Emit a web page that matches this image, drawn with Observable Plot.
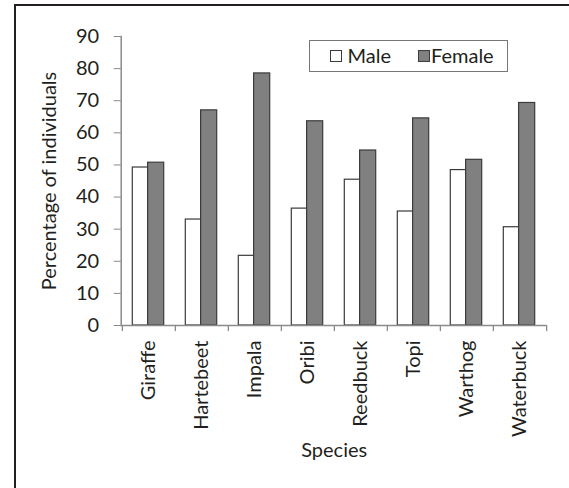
<!DOCTYPE html>
<html><head><meta charset="utf-8">
<script src="https://cdn.jsdelivr.net/npm/d3@7"></script>
<script src="https://cdn.jsdelivr.net/npm/@observablehq/plot@0.6"></script>
<style>
html,body{margin:0;padding:0;background:#fff;}
#wrap{position:relative;width:569px;height:488px;overflow:hidden;font-family:Lato,sans-serif;color:#231f20;background:#fff;}
#border{position:absolute;left:14px;top:4px;width:700px;height:700px;border-left:2px solid #231f20;border-top:2px solid #231f20;}
#chart{position:absolute;left:0;top:0;}
#legend{position:absolute;left:309px;top:40px;width:199px;height:32px;box-sizing:border-box;border:1.5px solid #777;background:#fff;}
.sw{position:absolute;width:12px;height:12px;box-sizing:border-box;border:1.3px solid #3b3b3b;top:8.5px;}
.lt{position:absolute;top:0;line-height:29px;font-size:20px;}
</style>
</head><body>
<div id="wrap"><div id="border"></div><div id="chart"></div><div id="legend"></div></div>
<script>
const species = ["Giraffe","Hartebeet","Impala","Oribi","Reedbuck","Topi","Warthog","Waterbuck"];
const male   = [49.2, 33.0, 21.7, 36.4, 45.4, 35.5, 48.4, 30.6];
const female = [50.7, 67.0, 78.5, 63.6, 54.5, 64.5, 51.6, 69.3];
const series = ["Male", "Female"];
const seriesColors = ["#ffffff", "#808080"];
const yTicks = [0,10,20,30,40,50,60,70,80,90];

const W = 569, H = 488, mL = 120.7, mR = 22.3, mT = 36, mB = 163;
const step = (W - mL - mR) / species.length;
const maleData = species.map((s, i) => ({species: s, sex: "Male", value: male[i]}));
const femaleData = species.map((s, i) => ({species: s, sex: "Female", value: female[i]}));
const axisColor = "#8a8a8a";
const barStroke = "#3b3b3b";

const chart = Plot.plot({
  width: W, height: H,
  marginLeft: mL, marginRight: mR, marginTop: mT, marginBottom: mB,
  style: {fontFamily: "Lato, sans-serif", fontSize: "20px", color: "#231f20", background: "transparent", overflow: "visible"},
  x: {type: "band", domain: species, padding: 0},
  y: {domain: [0, 90]},
  marks: [
    Plot.barY(maleData, {x: "species", y: "value", fill: seriesColors[0], stroke: barStroke, strokeWidth: 1.2, insetLeft: 10.3, insetRight: 27}),
    Plot.barY(femaleData, {x: "species", y: "value", fill: seriesColors[1], stroke: barStroke, strokeWidth: 1.2, insetLeft: 25.6, insetRight: 11.3}),
    Plot.ruleY([0], {stroke: axisColor, strokeWidth: 1.5}),
    Plot.frame({anchor: "left", stroke: axisColor, strokeWidth: 1.5}),
    Plot.ruleX(species, {x: d => d, y1: 0, y2: -1.9, dx: -step / 2, stroke: axisColor, strokeWidth: 1.3}),
    Plot.ruleX(species.slice(-1), {x: d => d, y1: 0, y2: -1.9, dx: step / 2, stroke: axisColor, strokeWidth: 1.3}),
    Plot.axisY({ticks: yTicks, tickSize: 7, tickPadding: 15, label: null, stroke: axisColor, fill: "#231f20", fontSize: 20}),
    Plot.axisX({tickSize: 0, tickRotate: -90, tickPadding: 15, label: null, fill: "#231f20", fontSize: 20}),
    Plot.text(["Species"], {frameAnchor: "bottom", textAnchor: "middle", dy: 131.7, fontSize: 20, fill: "#231f20"}),
    Plot.text(["Percentage of individuals"], {frameAnchor: "left", textAnchor: "middle", rotate: -90, dx: -71.7, fontSize: 20, fill: "#231f20"})
  ]
});
document.getElementById("chart").appendChild(chart);

const legend = document.getElementById("legend");
const swLeft = [20, 108], txtLeft = [37.5, 121];
series.forEach((name, i) => {
  const sw = document.createElement("div");
  sw.className = "sw"; sw.style.left = swLeft[i] + "px"; sw.style.background = seriesColors[i];
  legend.appendChild(sw);
  const t = document.createElement("div");
  t.className = "lt"; t.style.left = txtLeft[i] + "px"; t.textContent = name;
  legend.appendChild(t);
});
</script>
</body></html>
